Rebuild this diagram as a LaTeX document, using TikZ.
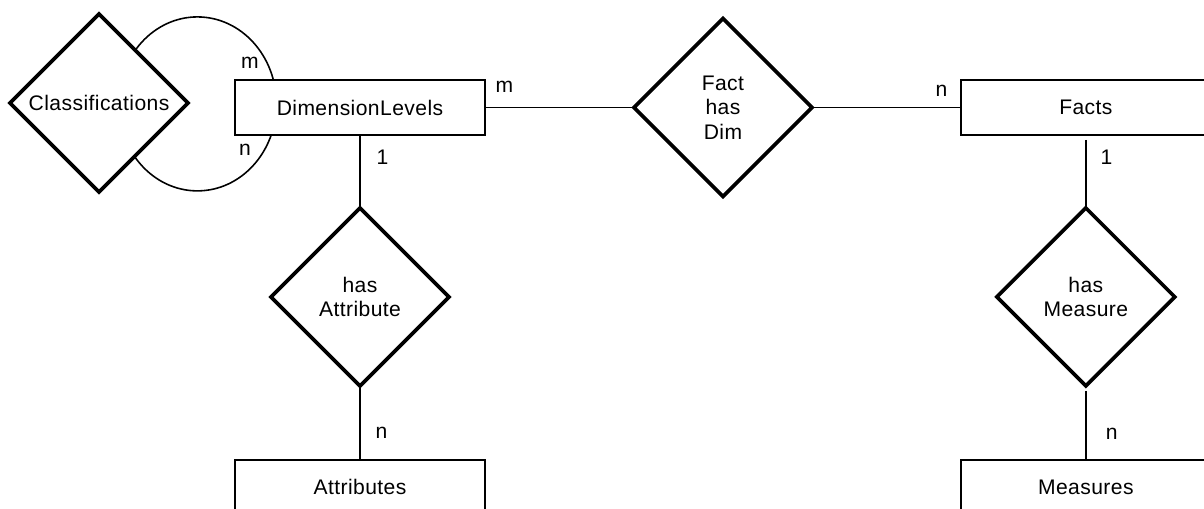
\documentclass[tikz,border=0pt]{standalone}
\usepackage{fontspec}
\usepackage{tikz}
\usetikzlibrary{shapes.geometric,positioning,calc,backgrounds}
\newfontfamily\erfont[LetterSpace=2]{Liberation Sans}
\newcommand{\erfs}{\erfont\fontsize{12}{14}\selectfont}

\begin{document}
\begin{tikzpicture}[
    x=0.02cm, y=-0.02cm,
    node distance=2.98cm,
    entity/.style={draw, line width=1.2pt, fill=white, minimum width=5cm, minimum height=1.1cm, inner sep=0pt, outer sep=0pt, font=\erfs},
    relation/.style={draw, diamond, line width=2.1pt, fill=white, minimum width=3.56cm, minimum height=3.56cm, inner sep=0pt, outer sep=0pt, align=center, font=\erfs},
    link/.style={line width=0.9pt},
    card/.style={font=\erfs, inner sep=1pt}
]
    \useasboundingbox (0,0) rectangle (1204,509);
    \clip (0,0) rectangle (1204,509);

    % Dimension side
    \node[entity] (dim) at (360,107.5) {DimensionLevels};
    \node[relation, left=0.94cm of dim, yshift=0.09cm] (cls) {Classifications};
    \node[relation, below=1.46cm of dim] (hasattr) {has\\Attribute};
    \node[entity, below=1.48cm of hasattr] (attrs) {Attributes};

    % Fact side
    \node[relation, right=of dim] (fhd) {Fact\\has\\Dim};
    \node[entity, right=of fhd] (facts) {Facts};
    \node[relation, below=1.46cm of facts] (hasmeas) {has\\Measure};
    \node[entity, below=1.48cm of hasmeas] (meas) {Measures};

    % Self relation of the levels
    \coordinate (loopc) at ($(cls.east)!0.2!(dim.west)$);
    \begin{scope}[on background layer]
        \draw[link] (loopc) ellipse [x radius=1.58cm, y radius=1.74cm];
    \end{scope}
    \node[card] (loopm) at ($(dim.north west)+(15,-17)$) {m};
    \node[card] (loopn) at ($(dim.south west)+(10,15)$) {n};

    % Connections
    \draw[link] (dim) -- node[card, pos=0.13, above=7pt] {m} (fhd);
    \draw[link] (fhd) -- node[card, pos=0.87, above=5pt] {n} (facts);
    \draw[link] (dim) -- node[card, pos=0.3, right=8pt] {1} (hasattr);
    \draw[link] (hasattr) -- node[card, pos=0.64, right=7.5pt] {n} (attrs);
    \draw[link, shorten <=0.1cm] (facts) -- node[card, pos=0.31, right=7pt] {1} (hasmeas);
    \draw[link, shorten <=0.1cm] (hasmeas) -- node[card, pos=0.65, right=10pt] {n} (meas);
\end{tikzpicture}
\end{document}
